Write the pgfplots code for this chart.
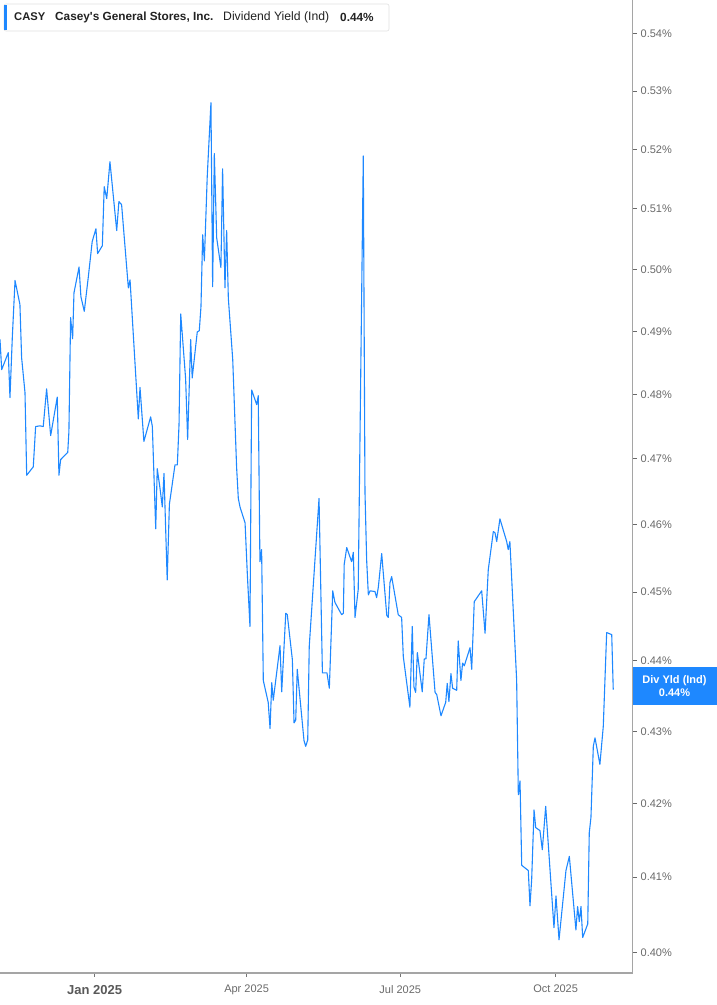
\documentclass[border=0pt]{standalone}
\usepackage{pgfplots}
\usepackage{pgfplotstable}
\pgfplotsset{compat=1.18}
\usepackage{fontspec}
\setmainfont{Liberation Sans}

\definecolor{lineblue}{RGB}{30,136,255}
\definecolor{axgray}{RGB}{165,165,165}
\definecolor{lblgray}{RGB}{105,105,105}
\definecolor{txtdark}{RGB}{34,34,34}

% days since 2025-01-01, dividend yield (%)
\pgfplotstableread{
day yld
-56.0 0.4887
-55.0 0.4839
-51.1 0.4866
-50.1 0.4795
-48.7 0.4891
-47.1 0.4982
-44.2 0.4943
-43.2 0.4858
-41.2 0.4803
-40.2 0.4675
-36.3 0.4688
-34.9 0.4750
-32.3 0.4751
-30.4 0.4750
-28.4 0.4809
-26.0 0.4736
-22.1 0.4796
-21.1 0.4675
-20.1 0.4699
-15.9 0.4710
-15.2 0.4742
-14.2 0.4922
-13.0 0.4888
-12.2 0.4962
-9.2 0.5004
-8.1 0.4956
-6.1 0.4932
-3.7 0.4988
-1.4 0.5046
0.8 0.5067
1.8 0.5026
4.6 0.5039
5.7 0.5137
7.2 0.5117
9.1 0.5179
13.1 0.5064
14.4 0.5112
16.0 0.5107
20.0 0.4970
21.0 0.4983
25.9 0.4762
26.9 0.4811
29.2 0.4727
33.2 0.4765
34.2 0.4750
36.2 0.4594
37.1 0.4685
38.7 0.4656
40.1 0.4627
41.1 0.4678
43.0 0.4518
44.3 0.4631
47.6 0.4691
49.0 0.4691
50.0 0.4753
51.0 0.4928
53.9 0.4825
55.1 0.4730
56.9 0.4887
57.8 0.4826
60.8 0.4899
62.0 0.4901
63.0 0.4940
64.0 0.5057
65.0 0.5014
66.7 0.5154
68.9 0.5280
69.9 0.4972
70.9 0.5193
72.3 0.5052
74.8 0.5003
75.8 0.5167
77.2 0.4970
78.2 0.5064
79.2 0.4953
81.8 0.4855
84.1 0.4687
85.1 0.4640
86.1 0.4627
89.1 0.4603
90.4 0.4529
92.0 0.4450
93.0 0.4807
96.0 0.4784
96.9 0.4798
97.9 0.4545
98.9 0.4563
99.9 0.4372
102.8 0.4341
103.9 0.4304
104.9 0.4369
105.8 0.4344
109.8 0.4422
110.8 0.4356
113.2 0.4469
114.1 0.4467
117.1 0.4402
118.1 0.4312
119.1 0.4316
120.0 0.4388
124.0 0.4287
125.0 0.4279
126.2 0.4288
127.1 0.4421
132.9 0.4640
134.9 0.4383
137.6 0.4383
139.0 0.4361
141.0 0.4502
142.3 0.4485
146.3 0.4467
147.3 0.4469
147.8 0.4541
149.3 0.4566
152.2 0.4545
153.2 0.4559
154.2 0.4463
156.1 0.4504
159.1 0.5189
160.1 0.4650
161.1 0.4547
162.1 0.4496
163.1 0.4502
166.0 0.4501
167.0 0.4492
168.0 0.4507
170.0 0.4557
173.0 0.4466
173.9 0.4463
174.9 0.4514
175.9 0.4523
179.8 0.4467
181.8 0.4463
182.8 0.4406
186.7 0.4334
188.1 0.4450
189.1 0.4363
190.1 0.4355
191.1 0.4412
194.0 0.4356
195.2 0.4403
196.2 0.4403
198.0 0.4467
201.6 0.4355
202.6 0.4352
205.1 0.4322
207.9 0.4341
208.8 0.4368
209.8 0.4342
211.0 0.4382
212.0 0.4361
214.4 0.4358
215.3 0.4429
216.9 0.4372
217.9 0.4397
218.9 0.4393
222.3 0.4419
223.3 0.4388
224.8 0.4486
229.2 0.4502
231.2 0.4440
233.1 0.4533
236.1 0.4590
237.1 0.4588
238.1 0.4575
240.0 0.4609
244.0 0.4575
244.9 0.4563
245.9 0.4575
249.9 0.4373
250.9 0.4212
251.9 0.4231
252.9 0.4116
256.8 0.4109
257.8 0.4062
258.8 0.4097
260.2 0.4191
261.2 0.4167
263.7 0.4163
265.1 0.4137
267.1 0.4196
272.0 0.4033
273.2 0.4075
275.0 0.4017
279.1 0.4109
281.1 0.4128
285.0 0.4030
286.0 0.4061
287.0 0.4041
288.0 0.4061
289.0 0.4020
292.0 0.4038
292.9 0.4160
293.9 0.4181
295.3 0.4279
296.3 0.4291
299.2 0.4254
301.2 0.4307
303.2 0.4441
306.2 0.4438
307.1 0.4359
}\yieldtable

\begin{document}
\begin{tikzpicture}[x=1pt,y=1pt]
\begin{axis}[
    scale only axis,
    width=632.5pt, height=973pt,
    xmin=-56, xmax=318.5,
    ymode=log, ymin=0.3974, ymax=0.5460,
    axis x line*=bottom, axis y line*=right,
    x axis line style={axgray, line width=2pt, -},
    y axis line style={axgray, line width=1.2pt, -},
    xtick={0,90,181,273},
    xticklabels={{\fontsize{13}{13}\selectfont\bfseries\color{lblgray!85!black}Jan 2025}, Apr 2025, Jul 2025, Oct 2025},
    xticklabel style={font=\fontsize{11}{13}\selectfont, text=lblgray, anchor=north, inner sep=0pt, yshift=-8pt},
    ytick={0.40,0.41,0.42,0.43,0.44,0.45,0.46,0.47,0.48,0.49,0.50,0.51,0.52,0.53,0.54},
    yticklabels={0.40\%,0.41\%,0.42\%,0.43\%,0.44\%,0.45\%,0.46\%,0.47\%,0.48\%,0.49\%,0.50\%,0.51\%,0.52\%,0.53\%,0.54\%},
    yticklabel style={font=\fontsize{11}{13}\selectfont, text=lblgray, anchor=west, inner sep=0pt, xshift=4pt},
    tick align=outside,
    major tick length=4pt,
    xtick style={axgray!70!black, line width=0.8pt},
    ytick style={lblgray, line width=1pt},
    minor tick num=0,
    log ticks with fixed point,
    clip=false,
]
\addplot[lineblue, line width=1.1pt, line join=round] table[x=day, y=yld]{\yieldtable};
\coordinate (nw) at (rel axis cs:0,1);
\end{axis}

% header box
\draw[rounded corners=2pt, draw=black!12, fill=white, line width=0.6pt]
    ([shift={(4pt,-4pt)}]nw) rectangle ([shift={(389pt,-31pt)}]nw);
\fill[lineblue] ([shift={(4pt,-5pt)}]nw) rectangle ([shift={(7pt,-30pt)}]nw);
\begin{scope}[every node/.style={anchor=west, inner sep=0pt, text=txtdark, font=\fontsize{12.2}{14}\selectfont}]
\node[font=\fontsize{11.2}{13}\selectfont\bfseries] at ([shift={(14pt,-17pt)}]nw) {CASY};
\node[font=\fontsize{11.8}{13}\selectfont\bfseries] at ([shift={(55pt,-17pt)}]nw) {Casey\textquotesingle s General Stores, Inc.};
\node at ([shift={(223pt,-17pt)}]nw) {Dividend Yield (Ind)};
\node[font=\fontsize{11.8}{13}\selectfont\bfseries] at ([shift={(340pt,-17pt)}]nw) {0.44\%};
\end{scope}

% last value label
\fill[lineblue] ([shift={(632.5pt,-667pt)}]nw) rectangle ([shift={(717pt,-705pt)}]nw);
\node[align=center, text=white, inner sep=0pt, font=\fontsize{11}{12.5}\selectfont\bfseries]
    at ([shift={(674.5pt,-686pt)}]nw) {Div Yld (Ind)\\0.44\%};

\pgfresetboundingbox
\path[use as bounding box] (nw) rectangle ([shift={(717pt,-1005pt)}]nw);
\end{tikzpicture}
\end{document}
